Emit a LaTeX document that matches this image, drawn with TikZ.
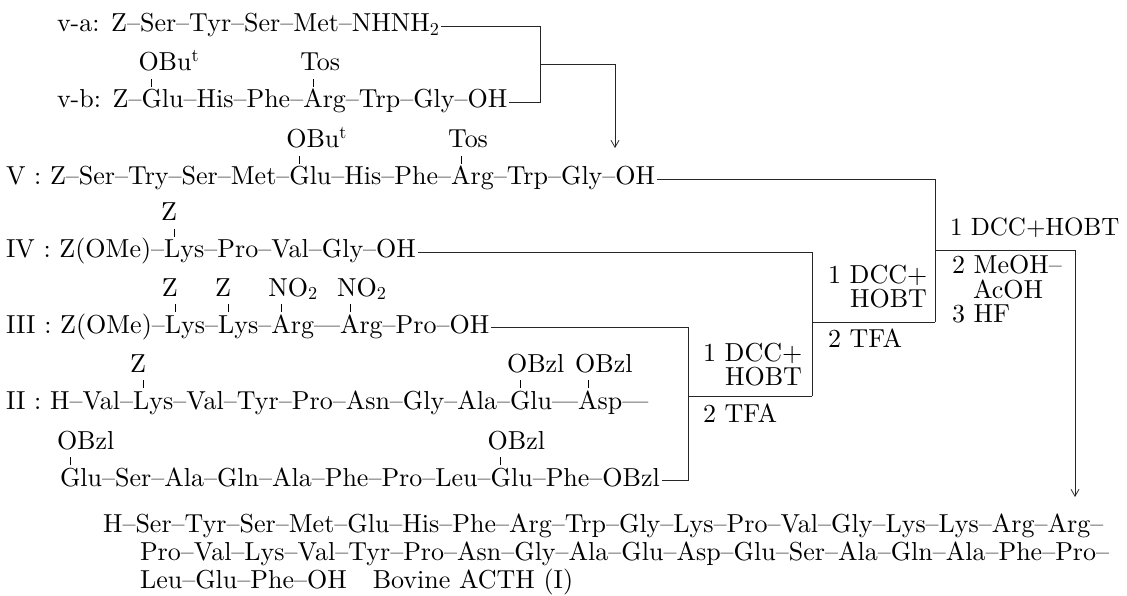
\documentclass[tikz,border=0pt]{standalone}
\usepackage{fontspec}
\setmainfont{lmroman10-regular.otf}
\usetikzlibrary{arrows.meta}
\newcommand\subst[3]{%
  \node[t] (#3) at ([xshift=-3pt,yshift=37pt]#1.base west) {#2};
  \draw[tick] ([xshift=10pt,yshift=21pt]#1.base west) -- ([xshift=10pt,yshift=29pt]#1.base west);}
\begin{document}
\begin{tikzpicture}[x=1pt,y=-1pt,
  t/.style={inner sep=0pt,outer sep=0pt,anchor=base west,font=\fontsize{26}{30}\selectfont},
  conn/.style={line width=0.75pt,draw=black!85},
  tick/.style={line width=0.7pt},
  arr/.style={conn,-{Straight Barb[length=7pt,width=8pt]}}]
\useasboundingbox (0,0) rectangle (1127,596);
\fill[white] (0,0) rectangle (1127,596);

% v-a
\node[t] (va) at (57,32) {v-a: Z--Ser--Tyr--Ser--Met--NHNH\textsubscript{2}};
% v-b
\node[t] (vb0) at (57,108) {v-b: Z--};
\node[t] (vbGlu) at (vb0.base east) {Glu};
\node[t] (vb1) at (vbGlu.base east) {--His--Phe--};
\node[t] (vbArg) at (vb1.base east) {Arg};
\node[t] (vb2) at (vbArg.base east) {--Trp--Gly--OH};
\subst{vbGlu}{OBu\textsuperscript{t}}{vbGluL}
\subst{vbArg}{Tos}{vbArgL}

% V
\node[t] (V0) at (6,185) {V : Z--Ser--Try--Ser--Met--};
\node[t] (VGlu) at (V0.base east) {Glu};
\node[t] (V1) at (VGlu.base east) {--His--Phe--};
\node[t] (VArg) at (V1.base east) {Arg};
\node[t] (V2) at (VArg.base east) {--Trp--Gly--OH};
\subst{VGlu}{OBu\textsuperscript{t}}{VGluL}
\subst{VArg}{Tos}{VArgL}

% IV
\node[t] (IV0) at (6,258) {IV : Z(OMe)--};
\node[t] (IVLys) at (IV0.base east) {Lys};
\node[t] (IV1) at (IVLys.base east) {--Pro--Val--Gly--OH};
\subst{IVLys}{Z}{IVLysL}

% III
\node[t] (III0) at (6,333) {III : Z(OMe)--};
\node[t] (IIILysA) at (III0.base east) {Lys};
\node[t] (III1) at (IIILysA.base east) {--};
\node[t] (IIILysB) at (III1.base east) {Lys};
\node[t] (III2) at (IIILysB.base east) {--};
\node[t] (IIIArgA) at (III2.base east) {Arg};
\node[t] (III3) at (IIIArgA.base east) {---};
\node[t] (IIIArgB) at (III3.base east) {Arg};
\node[t] (III4) at (IIIArgB.base east) {--Pro--OH};
\subst{IIILysA}{Z}{IIILysAL}
\subst{IIILysB}{Z}{IIILysBL}
\subst{IIIArgA}{NO\textsubscript{2}}{IIIArgAL}
\subst{IIIArgB}{NO\textsubscript{2}}{IIIArgBL}

% II
\node[t] (II0) at (6,409) {II : H--Val--};
\node[t] (IILys) at (II0.base east) {Lys};
\node[t] (II1) at (IILys.base east) {--Val--Tyr--Pro--Asn--Gly--Ala--};
\node[t] (IIGlu) at (II1.base east) {Glu};
\node[t] (II2) at (IIGlu.base east) {---};
\node[t] (IIAsp) at (II2.base east) {Asp};
\node[t] (II3) at (IIAsp.base east) {---};
\subst{IILys}{Z}{IILysL}
\subst{IIGlu}{OBzl}{IIGluL}
\subst{IIAsp}{OBzl}{IIAspL}

\node[t] (IIbGluA) at (60,486) {Glu};
\node[t] (IIb1) at (IIbGluA.base east) {--Ser--Ala--Gln--Ala--Phe--Pro--Leu--};
\node[t] (IIbGluB) at (IIb1.base east) {Glu};
\node[t] (IIb2) at (IIbGluB.base east) {--Phe--OBzl};
\subst{IIbGluA}{OBzl}{IIbGluAL}
\subst{IIbGluB}{OBzl}{IIbGluBL}

% product
\node[t] (P1) at (103,532) {H--Ser--Tyr--Ser--Met--Glu--His--Phe--Arg--Trp--Gly--Lys--Pro--Val--Gly--Lys--Lys--Arg--Arg--};
\node[t] (P2) at (140,560) {Pro--Val--Lys--Val--Tyr--Pro--Asn--Gly--Ala--Glu--Asp--Glu--Ser--Ala--Gln--Ala--Phe--Pro--};
\node[t] (P3) at (140,588) {Leu--Glu--Phe--OH\quad Bovine ACTH (I)};

% reagents
\node[t] (r1a) at (703,361) {1 DCC+};
\node[t,anchor=base east] (r1b) at (802,385) {HOBT};
\node[t] (r1c) at (703,422) {2 TFA};
\node[t] (r2a) at (828,283) {1 DCC+};
\node[t,anchor=base east] (r2b) at (927,307) {HOBT};
\node[t] (r2c) at (828,347) {2 TFA};
\node[t,font=\fontsize{25}{30}\selectfont] (r3a) at (950,236) {1 DCC+HOBT};
\node[t] (r3b) at (952,273) {2 MeOH--};
\node[t] (r3c) at (973,298) {AcOH};
\node[t] (r3d) at (952,322) {3 HF};

% bracket coordinates
\coordinate (b1t) at (540,26);
\coordinate (b1m) at (540,64);
\coordinate (b1b) at (540,102);
\coordinate (a1c) at (615,64);
\coordinate (a1e) at (615,148);
\coordinate (bIIt) at (688,327);
\coordinate (bIIm) at (688,396);
\coordinate (bIIb) at (688,480);
\coordinate (bIVt) at (812,252);
\coordinate (bIVm) at (812,322);
\coordinate (bIVb) at (812,396);
\coordinate (bVt) at (935,179);
\coordinate (bVm) at (935,250);
\coordinate (bVb) at (935,322);
\coordinate (bFc) at (1075,250);
\coordinate (bFe) at (1075,497);

% connectors
\draw[conn] ([xshift=2pt,yshift=6pt]va.base east) -- (b1t) -- (b1b) -- ([xshift=2pt,yshift=6pt]vb2.base east);
\draw[arr] (b1m) -- (a1c) -- (a1e);
\draw[conn] ([xshift=2pt,yshift=6pt]III4.base east) -- (bIIt) -- (bIIb) -- ([xshift=2pt,yshift=6pt]IIb2.base east);
\draw[conn] (bIIm) -- (bIVb);
\draw[conn] ([xshift=2pt,yshift=6pt]IV1.base east) -- (bIVt) -- (bIVb);
\draw[conn] (bIVm) -- (bVb);
\draw[conn] ([xshift=2pt,yshift=6pt]V2.base east) -- (bVt) -- (bVb);
\draw[conn] (bVm) -- (bFc);
\draw[arr] (bFc) -- (bFe);
\end{tikzpicture}
\end{document}
